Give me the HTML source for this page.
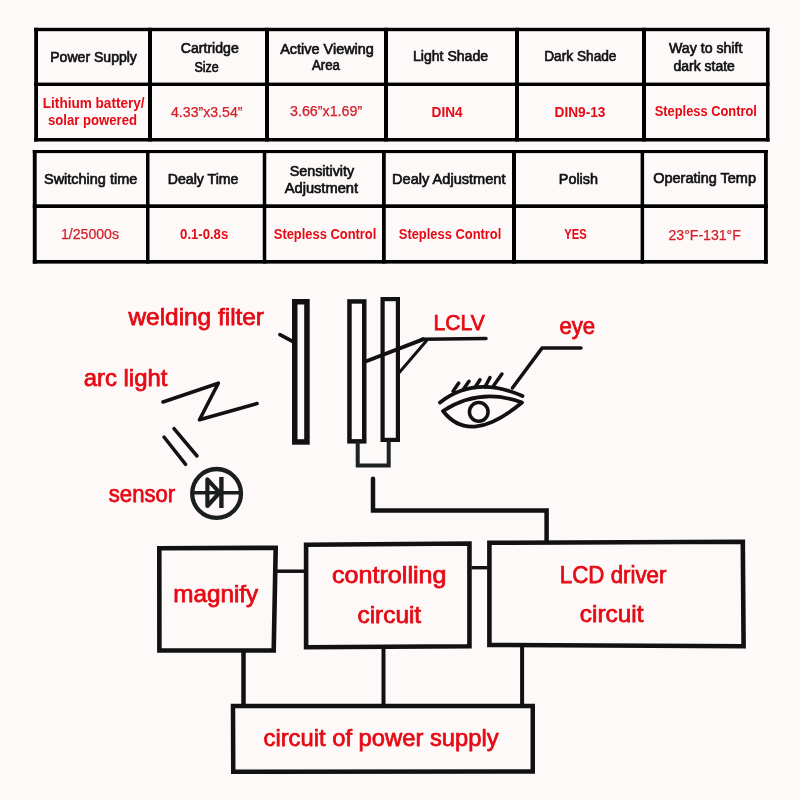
<!DOCTYPE html>
<html><head><meta charset="utf-8"><title>Auto-darkening filter specs</title>
<style>
html,body{margin:0;padding:0;background:#fdf9f9;}
body{width:800px;height:800px;overflow:hidden;}
svg{display:block;font-family:"Liberation Sans",sans-serif;will-change:transform;}
</style></head><body>
<svg width="800" height="800" viewBox="0 0 800 800">
<rect width="800" height="800" fill="#fdf9f9"/>
<g>
<rect x="34" y="27.8" width="735.5" height="3.4" fill="#000"/>
<rect x="34" y="138" width="735.5" height="3.5" fill="#000"/>
<rect x="34.2" y="27.8" width="3.8" height="113.7" fill="#000"/>
<rect x="766" y="27.8" width="3.5" height="113.7" fill="#000"/>
<rect x="34" y="82.6" width="735.5" height="3.4" fill="#000"/>
<rect x="148" y="27.8" width="4" height="113.7" fill="#000"/>
<rect x="265" y="27.8" width="4" height="113.7" fill="#000"/>
<rect x="384" y="27.8" width="4" height="113.7" fill="#000"/>
<rect x="515" y="27.8" width="4" height="113.7" fill="#000"/>
<rect x="642" y="27.8" width="4" height="113.7" fill="#000"/>
<rect x="32.8" y="150" width="735.0" height="3.1" fill="#000"/>
<rect x="32.8" y="260" width="735.0" height="3.6" fill="#000"/>
<rect x="32.8" y="150" width="3.9" height="113.6" fill="#000"/>
<rect x="764" y="150" width="3.8" height="113.6" fill="#000"/>
<rect x="32.8" y="204.3" width="735.0" height="3.7" fill="#000"/>
<rect x="146" y="150" width="3.5" height="113.6" fill="#000"/>
<rect x="262.75" y="150" width="3.5" height="113.6" fill="#000"/>
<rect x="382" y="150" width="3.75" height="113.6" fill="#000"/>
<rect x="512" y="150" width="4" height="113.6" fill="#000"/>
<rect x="640.6" y="150" width="3.5" height="113.6" fill="#000"/>
</g>

<g fill="none" stroke="#111" stroke-linecap="round" stroke-linejoin="round">
 <rect x="294.75" y="301.75" width="12.2" height="140.2" stroke-width="5.5" stroke-linejoin="miter"/>
 <line x1="279.9" y1="334.6" x2="293" y2="341.7" stroke-width="3.6"/>
 <rect x="349.45" y="301.45" width="14.8" height="139.9" stroke-width="4.5" stroke-linejoin="miter"/>
 <rect x="382.6" y="299.1" width="15.3" height="140.8" stroke-width="4.2" stroke-linejoin="miter"/>
 <path d="M357.7,443 V465.5 H388.7 V442" stroke-width="4" stroke="#1d2321" stroke-linejoin="miter"/>
 <line x1="366.9" y1="361" x2="423" y2="339.3" stroke-width="4"/>
 <line x1="399.5" y1="372.2" x2="426.5" y2="340.7" stroke-width="3"/>
 <line x1="422" y1="339.2" x2="486" y2="338.6" stroke-width="3.5"/>
 <polyline points="163,402 218.3,383.2 199.5,419.8 257,403.6" stroke-width="3.6"/>
 <line x1="164" y1="437" x2="185.6" y2="464.4" stroke-width="3.5"/>
 <line x1="174" y1="428.6" x2="197" y2="456" stroke-width="3.5"/>
 <circle cx="216.6" cy="493.4" r="24.4" stroke-width="4.3" stroke="#1a1f1e"/>
 <line x1="194" y1="492.8" x2="239.2" y2="492.8" stroke-width="3.5" stroke="#1a1f1e"/>
 <polygon points="207.4,479.4 207.4,506 219.6,492.7" stroke="#1a1f1e" stroke-width="4.2"/>
 <line x1="221.4" y1="477" x2="221.4" y2="508" stroke-width="4.4" stroke="#1a1f1e" stroke-linecap="butt"/>
 <path d="M373,478.8 V510.5 H546.6 V541" stroke-width="4.5" stroke-linejoin="miter"/>
 <path d="M440,402.5 Q475,375 522.5,396" stroke-width="3.8"/>
 <line x1="453.1" y1="391.25" x2="458.75" y2="383.1" stroke-width="3.5"/>
 <line x1="463.75" y1="388.75" x2="469" y2="381.25" stroke-width="3.5"/>
 <line x1="475" y1="387.5" x2="480" y2="379.75" stroke-width="3.5"/>
 <line x1="485" y1="386.9" x2="490" y2="377.5" stroke-width="3.5"/>
 <line x1="493.75" y1="385.6" x2="501.9" y2="374" stroke-width="3.5"/>
 <path d="M443,411 Q480,387 522,402.5 Q470,446 443,411 Z" stroke-width="3.8"/>
 <circle cx="478.75" cy="411.9" r="9.3" stroke-width="3.5"/>
 <polyline points="512.4,388 542,348.1 581,348.1" stroke-width="3.5"/>
</g>
<g fill="none" stroke="#111" stroke-linejoin="miter">
 <path d="M159.3,548.3 L275.7,547.8 L273.7,650.45 L159.4,650.45 Z" stroke-width="4.6"/>
 <path d="M306.1,544.8 L469.45,543.55 L469.45,646.3 L306.1,647.3 Z" stroke-width="4.6"/>
 <path d="M489.4,542.8 L742.8,541.8 L743.6,646.3 L489.4,644.9 Z" stroke-width="4.6"/>
 <path d="M233,706 L532.75,706 L532.75,771.5 L233.25,771.75 Z" stroke-width="4.5"/>
 <line x1="277" y1="571.2" x2="304" y2="571.2" stroke-width="3.5"/>
 <line x1="471.5" y1="567.7" x2="487.5" y2="567.7" stroke-width="3.4"/>
 <line x1="243.5" y1="652" x2="243.5" y2="705" stroke-width="4.5"/>
 <line x1="383.5" y1="649" x2="383.5" y2="705" stroke-width="4"/>
 <line x1="522.1" y1="647" x2="522.1" y2="705" stroke-width="4"/>
</g>

<g>
<text x="50.25" y="61.5" font-size="14" fill="#111" stroke="#111" stroke-width="0.65" textLength="86.65" lengthAdjust="spacingAndGlyphs">Power Supply</text>
<text x="180.8" y="53" font-size="14" fill="#111" stroke="#111" stroke-width="0.65" textLength="57.98" lengthAdjust="spacingAndGlyphs">Cartridge</text>
<text x="194.5" y="71.5" font-size="14" fill="#111" stroke="#111" stroke-width="0.65" textLength="24.31" lengthAdjust="spacingAndGlyphs">Size</text>
<text x="280.2" y="53.7" font-size="14" fill="#111" stroke="#111" stroke-width="0.65" textLength="93.71" lengthAdjust="spacingAndGlyphs">Active Viewing</text>
<text x="312.0" y="70.2" font-size="14" fill="#111" stroke="#111" stroke-width="0.65" textLength="28.0" lengthAdjust="spacingAndGlyphs">Area</text>
<text x="413.0" y="61" font-size="14" fill="#111" stroke="#111" stroke-width="0.65" textLength="75.09" lengthAdjust="spacingAndGlyphs">Light Shade</text>
<text x="544.22" y="61" font-size="14" fill="#111" stroke="#111" stroke-width="0.65" textLength="72.27" lengthAdjust="spacingAndGlyphs">Dark Shade</text>
<text x="669.0" y="53.3" font-size="14" fill="#111" stroke="#111" stroke-width="0.65" textLength="73.39" lengthAdjust="spacingAndGlyphs">Way to shift</text>
<text x="673.5" y="71" font-size="14" fill="#111" stroke="#111" stroke-width="0.65" textLength="61.29" lengthAdjust="spacingAndGlyphs">dark state</text>
<text x="42.8" y="108" font-size="14.5" font-weight="bold" fill="#e50a14" textLength="101.83" lengthAdjust="spacingAndGlyphs">Lithium battery/</text>
<text x="47.9" y="125.1" font-size="14.5" font-weight="bold" fill="#e50a14" textLength="89.18" lengthAdjust="spacingAndGlyphs">solar powered</text>
<text x="171.0" y="116.5" font-size="14" fill="#d4202a" stroke="#d4202a" stroke-width="0.25" textLength="71.46" lengthAdjust="spacingAndGlyphs">4.33”x3.54”</text>
<text x="290.0" y="116.1" font-size="14" fill="#d4202a" stroke="#d4202a" stroke-width="0.25" textLength="72.16" lengthAdjust="spacingAndGlyphs">3.66”x1.69”</text>
<text x="431.62" y="117.1" font-size="15.5" font-weight="bold" fill="#e50a14" textLength="31.05" lengthAdjust="spacingAndGlyphs">DIN4</text>
<text x="554.52" y="117.1" font-size="15.5" font-weight="bold" fill="#e50a14" textLength="50.95" lengthAdjust="spacingAndGlyphs">DIN9-13</text>
<text x="654.75" y="116" font-size="14.5" font-weight="bold" fill="#e50a14" textLength="102.16" lengthAdjust="spacingAndGlyphs">Stepless Control</text>
<text x="44.0" y="183.75" font-size="14" fill="#111" stroke="#111" stroke-width="0.65" textLength="93.28" lengthAdjust="spacingAndGlyphs">Switching time</text>
<text x="167.79" y="183.6" font-size="14" fill="#111" stroke="#111" stroke-width="0.65" textLength="70.69" lengthAdjust="spacingAndGlyphs">Dealy Time</text>
<text x="289.7" y="175.5" font-size="14" fill="#111" stroke="#111" stroke-width="0.65" textLength="64.5" lengthAdjust="spacingAndGlyphs">Sensitivity</text>
<text x="284.7" y="192.5" font-size="14" fill="#111" stroke="#111" stroke-width="0.65" textLength="73.38" lengthAdjust="spacingAndGlyphs">Adjustment</text>
<text x="392.07" y="184.4" font-size="14" fill="#111" stroke="#111" stroke-width="0.65" textLength="113.42" lengthAdjust="spacingAndGlyphs">Dealy Adjustment</text>
<text x="558.87" y="184.2" font-size="14" fill="#111" stroke="#111" stroke-width="0.65" textLength="39.13" lengthAdjust="spacingAndGlyphs">Polish</text>
<text x="653.2" y="183.2" font-size="14" fill="#111" stroke="#111" stroke-width="0.65" textLength="102.78" lengthAdjust="spacingAndGlyphs">Operating Temp</text>
<text x="60.99" y="238.8" font-size="14" fill="#d4202a" stroke="#d4202a" stroke-width="0.25" textLength="58.01" lengthAdjust="spacingAndGlyphs">1/25000s</text>
<text x="180.1" y="239.1" font-size="15" font-weight="bold" fill="#e50a14" textLength="48.1" lengthAdjust="spacingAndGlyphs">0.1-0.8s</text>
<text x="273.8" y="238.75" font-size="14.5" font-weight="bold" fill="#e50a14" textLength="102.52" lengthAdjust="spacingAndGlyphs">Stepless Control</text>
<text x="398.8" y="238.75" font-size="14.5" font-weight="bold" fill="#e50a14" textLength="102.52" lengthAdjust="spacingAndGlyphs">Stepless Control</text>
<text x="564.3" y="238.9" font-size="15.4" font-weight="bold" fill="#e50a14" textLength="22.39" lengthAdjust="spacingAndGlyphs">YES</text>
<text x="668.5" y="239.5" font-size="14.5" fill="#d4202a" stroke="#d4202a" stroke-width="0.25" textLength="72.36" lengthAdjust="spacingAndGlyphs">23°F-131°F</text>
<text x="128.52" y="325" font-size="24" fill="#e50a14" stroke="#e50a14" stroke-width="0.75" textLength="135.48" lengthAdjust="spacingAndGlyphs">welding filter</text>
<text x="83.76" y="385.8" font-size="24" fill="#e50a14" stroke="#e50a14" stroke-width="0.75" textLength="83.61" lengthAdjust="spacingAndGlyphs">arc light</text>
<text x="108.8" y="502" font-size="24.5" fill="#e50a14" stroke="#e50a14" stroke-width="0.75" textLength="66.44" lengthAdjust="spacingAndGlyphs">sensor</text>
<text x="433.56" y="330.2" font-size="22.5" fill="#e50a14" stroke="#e50a14" stroke-width="0.75" textLength="51.14" lengthAdjust="spacingAndGlyphs">LCLV</text>
<text x="559.4" y="333.8" font-size="23" fill="#e50a14" stroke="#e50a14" stroke-width="0.75" textLength="35.76" lengthAdjust="spacingAndGlyphs">eye</text>
<text x="173.19" y="601.8" font-size="24" fill="#e50a14" stroke="#e50a14" stroke-width="0.75" textLength="85.01" lengthAdjust="spacingAndGlyphs">magnify</text>
<text x="332.05" y="583" font-size="24" fill="#e50a14" stroke="#e50a14" stroke-width="0.75" textLength="114.46" lengthAdjust="spacingAndGlyphs">controlling</text>
<text x="357.48" y="623.25" font-size="24" fill="#e50a14" stroke="#e50a14" stroke-width="0.75" textLength="63.68" lengthAdjust="spacingAndGlyphs">circuit</text>
<text x="559.8" y="582.65" font-size="23.5" fill="#e50a14" stroke="#e50a14" stroke-width="0.75" textLength="106.63" lengthAdjust="spacingAndGlyphs">LCD driver</text>
<text x="579.88" y="622.4" font-size="24" fill="#e50a14" stroke="#e50a14" stroke-width="0.75" textLength="63.68" lengthAdjust="spacingAndGlyphs">circuit</text>
<text x="263.53" y="745.5" font-size="24.5" fill="#e50a14" stroke="#e50a14" stroke-width="0.75" textLength="235.14" lengthAdjust="spacingAndGlyphs">circuit of power supply</text>
</g>
</svg>
</body></html>
